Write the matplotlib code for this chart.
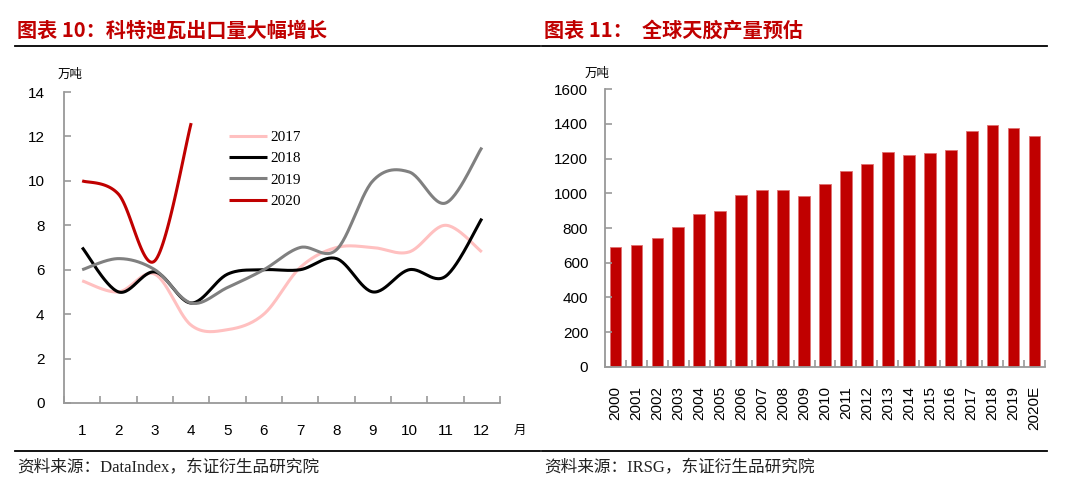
import matplotlib
matplotlib.use("Agg")
import matplotlib.pyplot as plt
import numpy as np

# ---- data: left chart (monthly exports, 万吨) ----
months = list(range(1, 13))
exp_2017 = [5.5, 5.0, 5.8, 3.5, 3.3, 4.0, 6.1, 7.0, 7.0, 6.8, 8.0, 6.8]
exp_2018 = [7.0, 5.0, 5.9, 4.5, 5.8, 6.0, 6.0, 6.5, 5.0, 6.0, 5.7, 8.3]
exp_2019 = [6.0, 6.5, 6.0, 4.5, 5.2, 6.0, 7.0, 6.9, 10.0, 10.4, 9.0, 11.5]
exp_2020 = [10.0, 9.4, 6.4, 12.6]

# ---- data: right chart (global natural rubber output, 万吨) ----
years = ["2000", "2001", "2002", "2003", "2004", "2005", "2006", "2007", "2008",
         "2009", "2010", "2011", "2012", "2013", "2014", "2015", "2016", "2017",
         "2018", "2019", "2020E"]
output = [692, 702, 745, 805, 882, 898, 992, 1018, 1018, 984, 1053, 1129, 1171,
          1240, 1222, 1230, 1248, 1361, 1393, 1376, 1333]

W, H = 1071, 498
RED = "#C00000"
AXIS = "#999999"
CJK = ["Noto Sans CJK SC", "DejaVu Sans"]
SERIF_CJK = ["Liberation Serif", "Noto Sans CJK SC"]


def smooth(x, y, n=30):
    """Uniform Catmull-Rom curve through the points (Excel-like smoothed line)."""
    p = np.column_stack([x, y]).astype(float)
    p = np.vstack([p[0], p, p[-1]])
    t = np.linspace(0, 1, n)[:, None]
    out = []
    for i in range(1, len(p) - 2):
        p0, p1, p2, p3 = p[i - 1], p[i], p[i + 1], p[i + 2]
        seg = 0.5 * ((2 * p1) + (-p0 + p2) * t + (2 * p0 - 5 * p1 + 4 * p2 - p3) * t ** 2
                     + (-p0 + 3 * p1 - 3 * p2 + p3) * t ** 3)
        out.append(seg if i == 1 else seg[1:])
    out = np.vstack(out)
    return out[:, 0], out[:, 1]


def px_axes(fig, x0, y0, x1, y1):
    return fig.add_axes([x0 / W, 1 - y1 / H, (x1 - x0) / W, (y1 - y0) / H])


def style_axes(ax):
    for s in ["top", "right"]:
        ax.spines[s].set_visible(False)
    for s in ["left", "bottom"]:
        ax.spines[s].set_color(AXIS)
        ax.spines[s].set_linewidth(1.3)
    ax.tick_params(which="both", direction="in", color=AXIS, width=1.2)
    for lab in ax.get_xticklabels() + ax.get_yticklabels():
        lab.set_family("Liberation Sans")
        lab.set_fontsize(11)


fig = plt.figure(figsize=(W / 100, H / 100), dpi=100)

# ---- left chart ----
ax1 = px_axes(fig, 64, 92, 500, 403)
series = [("2017", exp_2017, "#FFC0C0"), ("2018", exp_2018, "black"),
          ("2019", exp_2019, "#808080"), ("2020", exp_2020, RED)]
for label, vals, color in series:
    sx, sy = smooth(months[:len(vals)], vals)
    ax1.plot(sx, sy, color=color, lw=2.2, label=label, solid_capstyle="butt")
ax1.set_xlim(0.5, 12.5)
ax1.set_ylim(0, 14)
ax1.set_yticks(range(0, 15, 2))
ax1.set_xticks(months)
ax1.set_xticks(np.arange(0.5, 13, 1), minor=True)
style_axes(ax1)
ax1.tick_params(axis="x", which="major", length=0, pad=15)
ax1.tick_params(axis="x", which="minor", length=5)
ax1.tick_params(axis="y", length=5, pad=14)
leg = ax1.legend(loc="upper left", bbox_to_anchor=(0.378, 0.877), frameon=False,
                 borderaxespad=0, borderpad=0, handlelength=2.5, handletextpad=0.25,
                 labelspacing=0.5, prop={"family": "Liberation Serif", "size": 11})
fig.text(58 / W, 1 - 74 / H, "万吨", family=CJK, fontsize=9, va="center")
fig.text(514 / W, 1 - 430 / H, "月", family=CJK, fontsize=9, va="center")

# ---- right chart ----
ax2 = px_axes(fig, 605, 89.3, 1045, 366.7)
xpos = np.arange(len(years))
ax2.bar(xpos, output, width=0.56, color=RED, edgecolor="#E07070", linewidth=0.6)
ax2.set_xlim(-0.5, len(years) - 0.5)
ax2.set_ylim(0, 1600)
ax2.set_yticks(range(0, 1601, 200))
ax2.set_xticks(xpos)
ax2.set_xticklabels(years, rotation=90)
ax2.set_xticks(np.arange(-0.5, len(years), 1), minor=True)
style_axes(ax2)
ax2.tick_params(axis="x", which="major", length=0, pad=14)
ax2.tick_params(axis="x", which="minor", length=5)
ax2.tick_params(axis="y", length=5, pad=12)
fig.text(585 / W, 1 - 73 / H, "万吨", family=CJK, fontsize=9, va="center")

# ---- titles, rules, sources ----
fig.text(17 / W, 1 - 30 / H, "图表 10：科特迪瓦出口量大幅增长", family=CJK,
         fontweight="bold", fontsize=14.5, color=RED, va="center")
fig.text(544 / W, 1 - 30 / H, "图表 11：  全球天胶产量预估", family=CJK,
         fontweight="bold", fontsize=14.5, color=RED, va="center")
for x0, x1 in [(15, 540), (542, 1047)]:
    for y in (46, 451):
        fig.add_artist(plt.Line2D([x0 / W, x1 / W], [1 - y / H] * 2, color="black", lw=1.3))
fig.text(17 / W, 1 - 468 / H, "资料来源：DataIndex，东证衍生品研究院", family=SERIF_CJK,
         fontsize=12, color="#222222", va="center")
fig.text(544 / W, 1 - 468 / H, "资料来源：IRSG，东证衍生品研究院", family=SERIF_CJK,
         fontsize=12, color="#222222", va="center")

fig.savefig("out.png", dpi=100)
